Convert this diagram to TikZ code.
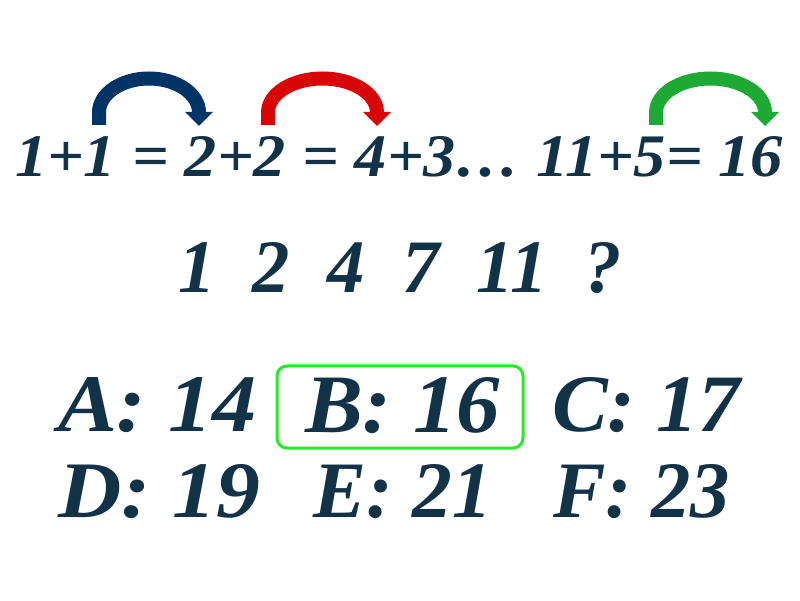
\documentclass[tikz,border=0pt]{standalone}
\usepackage{graphicx}
\usepackage{fontspec}
\setmainfont{Liberation Serif}
\definecolor{txt}{RGB}{18,50,72}
\definecolor{arrblue}{RGB}{0,52,102}
\definecolor{arrred}{RGB}{215,5,5}
\definecolor{arrgreen}{RGB}{30,168,52}
\definecolor{boxgreen}{RGB}{40,235,40}
\begin{document}
\begin{tikzpicture}[x=1pt,y=1pt,
  eq/.style={anchor=base west, inner sep=0pt, outer sep=0pt, text=txt, font=\bfseries\itshape},
  answerbox/.style={draw=boxgreen, line width=3pt, rounded corners=10pt},
  shaft/.style={line width=14pt}]
\useasboundingbox (0,0) rectangle (800,600);
\fill[white] (0,0) rectangle (800,600);
% arrows
\foreach \L/\R/\c in {99/199/arrblue,268/377/arrred,656/765/arrgreen}{
  \draw[\c, shaft] (\L,475) -- (\L,487.5)
     arc[start angle=180, end angle=0, x radius={(\R-\L)/2}, y radius=34];
  \fill[\c] (\R-14,488) -- (\R+14,488) -- (\R,474) -- cycle;
}
% texts
\node[eq] (l1) at (15,423) {\resizebox{768pt}{40pt}{1+1 = 2+2 = 4+3\ldots\ 11+5= 16}};
\node[eq] (l2) at (178,307) {\resizebox{444pt}{50pt}{1\ \ 2\ \ 4\ \ 7\ \ 11\ \ ?}};
\draw[answerbox] (277,152) rectangle (523,234);
\node[eq] (a) at (58,168) {\resizebox{199pt}{54pt}{A: 14}};
\node[eq] (b) at (305,167) {\resizebox{195pt}{55pt}{B: 16}};
\node[eq] (c) at (552,168) {\resizebox{188pt}{54pt}{C: 17}};
\node[eq] (d) at (58,82) {\resizebox{202pt}{53pt}{D: 19}};
\node[eq] (e) at (313,82) {\resizebox{179pt}{53pt}{E: 21}};
\node[eq] (f) at (553,82) {\resizebox{177pt}{53pt}{F: 23}};
\end{tikzpicture}
\end{document}
